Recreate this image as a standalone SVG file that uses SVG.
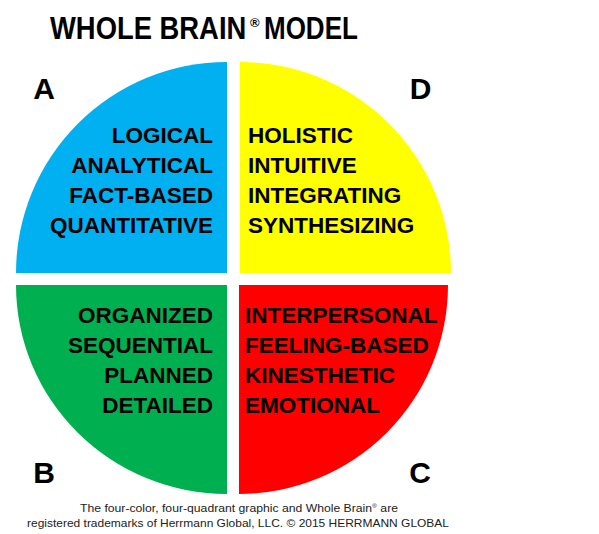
<svg xmlns="http://www.w3.org/2000/svg" width="599" height="534" viewBox="0 0 599 534">
<style>
.title{font-family:"Liberation Sans",Arial,sans-serif;font-weight:bold;fill:#000}
.sup{font-family:"Liberation Sans",Arial,sans-serif;font-weight:bold;font-size:13px;fill:#000}
.letter{font-family:"Liberation Sans",Arial,sans-serif;font-weight:bold;font-size:30px;fill:#000;text-anchor:middle}
.q{font-family:"Liberation Sans",Arial,sans-serif;font-weight:bold;font-size:22.5px;fill:#000}
.r{text-anchor:end}
.foot{font-family:"Liberation Sans",Arial,sans-serif;font-size:11px;fill:#222;text-anchor:middle}
</style>
<rect width="599" height="534" fill="#fff"/>
<g id="title">
<text class="title" transform="translate(50,39) scale(1,1.12)" x="0" y="0" style="font-size:27.4px">WHOLE BRAIN</text>
<text class="sup" x="250" y="27">®</text>
<text class="title" transform="translate(264,39) scale(1,1.18)" x="0" y="0" style="font-size:26px">MODEL</text>
</g>
<g id="quadrant-A">
<path d="M227,273 L16,273 A211,211 0 0 1 227,62 Z" fill="#00b0f0"/>
<text class="letter" x="44" y="99">A</text>
<text class="q r" x="213" y="143">LOGICAL</text>
<text class="q r" x="213" y="173">ANALYTICAL</text>
<text class="q r" x="213" y="203">FACT-BASED</text>
<text class="q r" x="213" y="233">QUANTITATIVE</text>
</g>
<g id="quadrant-D">
<path d="M240,273 L240,62 A211,211 0 0 1 451,273 Z" fill="#ffff00"/>
<text class="letter" x="420.5" y="99">D</text>
<text class="q" x="248" y="143">HOLISTIC</text>
<text class="q" x="248" y="173">INTUITIVE</text>
<text class="q" x="248" y="203">INTEGRATING</text>
<text class="q" x="248" y="233">SYNTHESIZING</text>
</g>
<g id="quadrant-B">
<path d="M227,285 L227,494 A211,209 0 0 1 16,285 Z" fill="#00b050"/>
<text class="letter" x="44" y="483">B</text>
<text class="q r" x="213" y="323">ORGANIZED</text>
<text class="q r" x="213" y="353">SEQUENTIAL</text>
<text class="q r" x="213" y="383">PLANNED</text>
<text class="q r" x="213" y="413">DETAILED</text>
</g>
<g id="quadrant-C">
<path d="M239,285 L448,285 A209,209 0 0 1 239,494 Z" fill="#ff0000"/>
<text class="letter" x="420" y="483">C</text>
<text class="q" x="245" y="323">INTERPERSONAL</text>
<text class="q" x="245" y="353">FEELING-BASED</text>
<text class="q" x="245" y="383">KINESTHETIC</text>
<text class="q" x="245" y="413">EMOTIONAL</text>
</g>
<g id="connectors"/>
<g id="footer">
<text class="foot" x="239" y="512" textLength="318" lengthAdjust="spacingAndGlyphs">The four-color, four-quadrant graphic and Whole Brain<tspan font-size="6" dy="-4">®</tspan><tspan dy="4"> are</tspan></text>
<text class="foot" x="238" y="527" textLength="422" lengthAdjust="spacingAndGlyphs">registered trademarks of Herrmann Global, LLC. © 2015 HERRMANN GLOBAL</text>
</g>
</svg>
